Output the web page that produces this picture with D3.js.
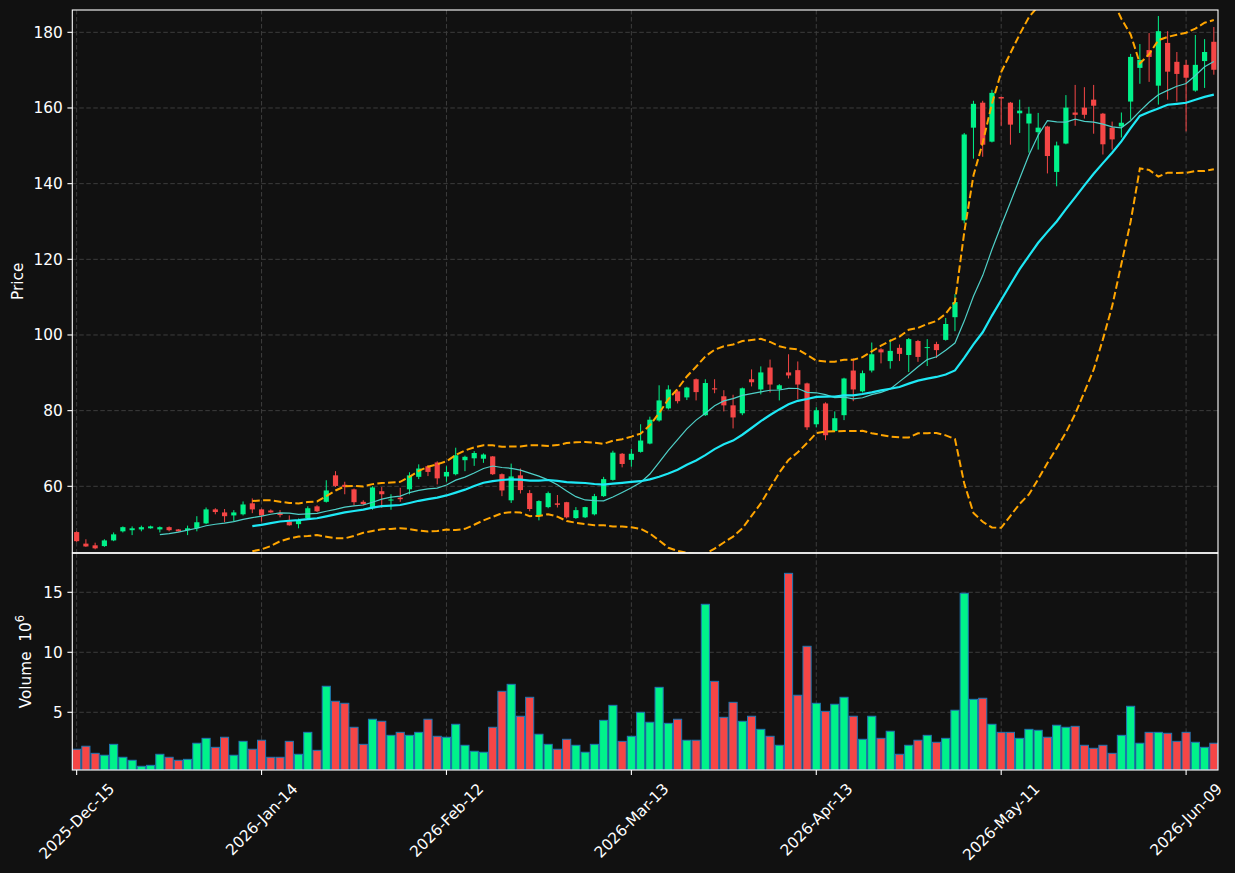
<!DOCTYPE html>
<html>
<head>
<meta charset="utf-8">
<script src="https://cdn.jsdelivr.net/npm/d3@7"></script>
<style>
  html, body { margin: 0; padding: 0; background: #111111; }
  svg { display: block; }
  text { font-family: "DejaVu Sans", sans-serif; fill: #ffffff; }
</style>
</head>
<body>
<div id="chart"></div>
<script>
// daily candles, index 0 = 2025-12-15 (trading days only)
var opens = [47.9,44.85,44.4,44.2,45.7,48.1,48.4,48.6,48.9,48.6,
  49.2,48.6,48.4,48.9,50.2,53.9,53.1,52.3,52.6,55.5,
  53.9,53.6,52.9,50.7,50.0,51.6,54.7,55.9,62.9,60.4,
  59.2,55.9,54.2,58.7,56.3,57.0,59.2,62.5,65.3,66.3,
  62.6,63.2,66.9,67.4,67.3,67.9,63.2,56.3,62.9,58.2,
  52.4,54.5,55.5,55.8,51.6,51.8,52.6,57.4,61.7,68.6,
  67.0,69.1,71.3,77.4,80.6,85.1,83.5,88.3,78.8,85.9,
  83.8,81.4,79.3,88.3,85.6,91.4,85.6,90.1,90.7,87.2,
  76.4,81.9,74.6,78.8,90.6,85.1,90.6,96.2,93.1,96.6,
  94.7,98.4,96.6,97.6,98.7,104.7,130.3,154.8,161.4,151.1,
  162.9,161.4,158.6,155.9,153.6,155.1,143.1,150.6,158.8,160.1,
  162.2,158.5,154.8,155.1,161.7,170.6,175.3,165.9,177.2,172.2,
  171.4,164.6,172.4,177.5];
var highs = [48.1,46.0,45.1,46.0,47.8,49.4,49.4,49.6,49.6,49.4,
  49.4,48.7,49.6,52.1,54.4,54.2,54.0,53.7,56.0,56.8,
  54.1,53.9,53.7,52.3,51.5,54.7,55.0,61.6,64.0,61.2,
  59.4,56.3,60.0,59.8,57.9,59.6,63.7,65.8,65.6,66.6,
  65.3,70.2,68.1,69.3,68.7,68.0,63.4,66.0,64.7,59.0,
  56.3,58.6,57.7,55.9,54.5,54.6,58.0,62.5,69.4,68.8,
  69.9,76.4,78.4,86.7,86.7,85.5,86.3,88.5,88.3,88.3,
  85.4,84.2,86.1,90.9,91.7,93.5,87.0,94.9,93.0,87.4,
  80.9,82.2,79.8,88.7,93.8,90.6,98.0,96.5,98.9,97.5,
  99.2,98.7,98.9,98.2,104.5,110.8,153.4,161.9,161.9,164.8,
  163.0,161.6,162.2,160.3,158.7,155.3,151.1,163.4,166.1,165.5,
  166.1,158.7,156.4,158.8,174.3,176.9,179.8,184.3,180.3,174.8,
  172.7,179.3,178.2,181.4];
var lows = [45.3,44.0,43.35,44.0,45.5,47.8,47.1,48.1,48.8,47.8,
  48.1,48.0,47.1,48.1,50.0,52.6,50.5,50.7,52.3,52.9,
  50.7,53.0,51.8,49.6,48.9,51.4,53.2,55.7,59.8,57.9,
  55.0,55.0,53.8,54.3,53.8,55.9,57.9,61.9,62.7,60.5,
  61.2,62.9,64.0,65.4,66.2,63.0,57.4,55.6,58.1,53.4,
  51.0,54.2,54.4,51.5,51.4,51.6,52.3,57.2,61.5,65.0,
  65.2,68.9,71.1,77.1,80.3,81.9,82.8,82.7,78.6,84.6,
  79.8,75.3,78.8,86.4,84.3,84.8,82.7,88.5,83.0,74.9,
  75.6,72.2,74.4,77.5,82.5,84.8,90.1,92.5,91.1,93.1,
  90.2,92.9,91.8,93.9,98.5,101.0,129.5,146.6,147.1,150.9,
  155.3,150.3,153.4,148.2,149.0,142.7,139.3,150.4,155.3,157.2,
  153.2,147.7,149.0,152.2,156.9,166.4,166.9,160.9,162.2,161.7,
  153.8,164.3,165.3,168.8];
var closes = [45.5,44.1,43.6,45.7,47.3,49.2,48.9,49.2,49.4,49.2,
  48.4,48.1,48.9,50.5,53.9,53.2,52.1,53.1,55.2,53.9,
  52.3,53.1,52.4,49.7,51.0,54.2,53.4,58.9,60.1,59.8,
  55.8,55.3,59.7,57.9,56.5,56.6,62.9,64.7,63.8,62.1,
  63.8,68.2,67.8,68.8,68.4,63.2,58.9,62.6,59.0,54.0,
  56.1,58.2,55.1,51.8,53.7,54.5,57.4,61.9,68.9,65.9,
  68.6,72.1,77.6,82.7,85.6,82.5,86.1,84.9,87.3,85.6,
  81.4,78.2,85.9,87.5,90.1,86.9,86.7,89.3,86.9,75.6,
  80.1,73.5,78.0,88.5,85.6,89.9,94.9,95.4,95.8,95.0,
  98.9,94.2,96.8,96.0,102.9,108.7,153.0,161.1,150.3,164.0,
  162.5,155.6,159.3,158.5,154.8,147.3,150.1,160.1,158.2,158.2,
  160.6,150.4,151.7,156.1,173.5,172.7,173.5,180.3,169.6,169.0,
  168.0,171.4,174.8,170.1];
// volume in millions
var volumes = [1.92,2.17,1.58,1.42,2.33,1.25,1.0,0.5,0.58,1.5,
  1.25,1.0,1.08,2.42,2.83,2.08,2.92,1.42,2.58,1.92,
  2.67,1.25,1.25,2.58,1.5,3.33,1.83,7.17,5.92,5.75,
  3.75,2.33,4.42,4.25,3.08,3.33,3.08,3.33,4.42,3.0,
  2.92,4.0,2.25,1.75,1.67,3.75,6.75,7.33,4.67,6.25,
  3.17,2.33,1.92,2.75,2.25,1.67,2.33,4.33,5.58,2.58,
  3.0,5.0,4.17,7.08,4.08,4.42,2.67,2.67,14.0,7.58,
  4.58,5.83,4.25,4.67,3.58,3.0,2.25,16.58,6.42,10.5,
  5.75,5.08,5.67,6.25,4.67,2.75,4.67,2.83,3.42,1.5,
  2.25,2.67,3.08,2.5,2.83,5.17,14.92,6.08,6.17,4.0,
  3.33,3.33,2.83,3.58,3.5,2.92,3.92,3.75,3.83,2.25,
  2.0,2.25,1.58,3.08,5.5,2.42,3.33,3.33,3.25,2.58,
  3.33,2.5,2.08,2.42];

var tickIndex  = [0, 20, 40, 60, 80, 100, 120];
var tickLabels = ["2025-Dec-15","2026-Jan-14","2026-Feb-12","2026-Mar-13",
                  "2026-Apr-13","2026-May-11","2026-Jun-09"];
var priceTicks  = [60, 80, 100, 120, 140, 160, 180];
var volumeTicks = [5, 10, 15];

var upColor = "#00f28a", downColor = "#f54646";
var fontSize = 15.3;

var width = 1235, height = 873;
var left = 72.3, right = 1218;
var priceTop = 10, priceBottom = 552.7;
var volTop = 553.3, volBottom = 770;

var svg = d3.select("#chart").append("svg")
  .attr("width", width).attr("height", height);

svg.append("rect").attr("width", width).attr("height", height).attr("fill", "#111111");

var x = d3.scaleLinear().domain([-0.47, 123.45]).range([left, right]);
var y = d3.scaleLinear().domain([42.45, 185.9]).range([priceBottom, priceTop]);
var yv = d3.scaleLinear().domain([0.19, 18.25]).range([volBottom, volTop]);
var pxPerBar = x(1) - x(0);

var data = closes.map(function(c, i){
  return {i: i, o: opens[i], h: highs[i], l: lows[i], c: c, v: volumes[i]};
});

// moving averages and bollinger bands worked out from the closes
function rolling(n, i){
  if (i < n - 1) return null;
  return closes.slice(i - n + 1, i + 1);
}
var ma10 = data.map(function(d){ var w = rolling(10, d.i); return w ? d3.mean(w) : null; });
var ma20 = data.map(function(d){ var w = rolling(20, d.i); return w ? d3.mean(w) : null; });
var bbUp = data.map(function(d){ var w = rolling(20, d.i); return w ? d3.mean(w) + 2 * d3.deviation(w) : null; });
var bbLo = data.map(function(d){ var w = rolling(20, d.i); return w ? d3.mean(w) - 2 * d3.deviation(w) : null; });

svg.append("clipPath").attr("id", "clipPrice")
  .append("rect").attr("x", left).attr("y", priceTop)
  .attr("width", right - left).attr("height", priceBottom - priceTop);
svg.append("clipPath").attr("id", "clipVol")
  .append("rect").attr("x", left).attr("y", volTop)
  .attr("width", right - left).attr("height", volBottom - volTop);

// grid
var grid = svg.append("g").attr("stroke", "#3d3d3d").attr("stroke-width", 1)
  .attr("stroke-dasharray", "4.5,2.5").attr("fill", "none");
tickIndex.forEach(function(t){
  grid.append("line").attr("x1", x(t)).attr("x2", x(t)).attr("y1", priceTop).attr("y2", priceBottom);
  grid.append("line").attr("x1", x(t)).attr("x2", x(t)).attr("y1", volTop).attr("y2", volBottom);
});
priceTicks.forEach(function(t){
  grid.append("line").attr("x1", left).attr("x2", right).attr("y1", y(t)).attr("y2", y(t));
});
volumeTicks.forEach(function(t){
  grid.append("line").attr("x1", left).attr("x2", right).attr("y1", yv(t)).attr("y2", yv(t));
});

// candles
var gPrice = svg.append("g").attr("clip-path", "url(#clipPrice)");
var candle = gPrice.selectAll(".candle").data(data).enter().append("g").attr("class", "candle");
candle.append("line")
  .attr("x1", function(d){ return x(d.i); })
  .attr("x2", function(d){ return x(d.i); })
  .attr("y1", function(d){ return y(d.h); })
  .attr("y2", function(d){ return y(d.l); })
  .attr("stroke", function(d){ return d.c >= d.o ? upColor : downColor; })
  .attr("stroke-width", 1);
candle.append("rect")
  .attr("x", function(d){ return x(d.i) - pxPerBar * 0.28; })
  .attr("width", pxPerBar * 0.56)
  .attr("y", function(d){ return y(Math.max(d.o, d.c)); })
  .attr("height", function(d){ return Math.max(1, Math.abs(y(d.o) - y(d.c))); })
  .attr("fill", function(d){ return d.c >= d.o ? upColor : downColor; });

// overlays
function lineOf(arr){
  return d3.line()
    .defined(function(d, i){ return arr[i] != null; })
    .x(function(d, i){ return x(i); })
    .y(function(d, i){ return y(arr[i]); })(arr);
}
gPrice.append("path").attr("d", lineOf(bbUp)).attr("fill", "none")
  .attr("stroke", "#ffa500").attr("stroke-width", 2).attr("stroke-dasharray", "7.5,3.3");
gPrice.append("path").attr("d", lineOf(bbLo)).attr("fill", "none")
  .attr("stroke", "#ffa500").attr("stroke-width", 2).attr("stroke-dasharray", "7.5,3.3");
gPrice.append("path").attr("d", lineOf(ma10)).attr("fill", "none")
  .attr("stroke", "#4fd0c8").attr("stroke-width", 1.2);
gPrice.append("path").attr("d", lineOf(ma20)).attr("fill", "none")
  .attr("stroke", "#1ee8f5").attr("stroke-width", 2.2);

// volume
var gVol = svg.append("g").attr("clip-path", "url(#clipVol)");
gVol.selectAll(".vol").data(data).enter().append("rect").attr("class", "vol")
  .attr("x", function(d){ return x(d.i) - pxPerBar * 0.44; })
  .attr("width", pxPerBar * 0.88)
  .attr("y", function(d){ return yv(d.v); })
  .attr("height", function(d){ return volBottom - yv(d.v); })
  .attr("fill", function(d){ return d.c >= d.o ? upColor : downColor; })
  .attr("stroke", "#1f77b4").attr("stroke-width", 1);

// frames
svg.append("rect").attr("x", left).attr("y", priceTop)
  .attr("width", right - left).attr("height", priceBottom - priceTop)
  .attr("fill", "none").attr("stroke", "#ffffff").attr("stroke-width", 1.1);
svg.append("rect").attr("x", left).attr("y", volTop)
  .attr("width", right - left).attr("height", volBottom - volTop)
  .attr("fill", "none").attr("stroke", "#ffffff").attr("stroke-width", 1.1);

// y ticks
var axes = svg.append("g").attr("font-size", fontSize);
priceTicks.forEach(function(t){
  axes.append("line").attr("x1", left - 4.9).attr("x2", left).attr("y1", y(t)).attr("y2", y(t))
    .attr("stroke", "#ffffff").attr("stroke-width", 1.1);
  axes.append("text").attr("x", left - 9.5).attr("y", y(t)).attr("dy", "0.35em")
    .attr("text-anchor", "end").text(t);
});
volumeTicks.forEach(function(t){
  axes.append("line").attr("x1", left - 4.9).attr("x2", left).attr("y1", yv(t)).attr("y2", yv(t))
    .attr("stroke", "#ffffff").attr("stroke-width", 1.1);
  axes.append("text").attr("x", left - 9.5).attr("y", yv(t)).attr("dy", "0.35em")
    .attr("text-anchor", "end").text(t);
});

// x ticks, rotated labels centred under the tick
tickIndex.forEach(function(t, k){
  axes.append("line").attr("x1", x(t)).attr("x2", x(t)).attr("y1", volBottom).attr("y2", volBottom + 4.9)
    .attr("stroke", "#ffffff").attr("stroke-width", 1.1);
  var lab = axes.append("text").attr("text-anchor", "middle").attr("dy", "0.35em").text(tickLabels[k]);
  var w = lab.node().getComputedTextLength();
  var boxH = (w + fontSize * 1.16) * Math.SQRT1_2;
  var cy = volBottom + 9.8 + boxH / 2;
  lab.attr("transform", "translate(" + x(t) + "," + cy + ") rotate(-45)");
});

// axis labels
axes.append("text").attr("transform", "translate(18," + ((priceTop + priceBottom) / 2) + ") rotate(-90)")
  .attr("text-anchor", "middle").attr("dy", "0.35em").text("Price");
var vl = axes.append("text").attr("transform", "translate(26," + ((volTop + volBottom) / 2) + ") rotate(-90)")
  .attr("text-anchor", "middle").attr("dy", "0.35em");
vl.append("tspan").text("Volume\u00a0\u00a010");
vl.append("tspan").attr("font-size", 11.5).attr("dy", "-0.6em").text("6");
</script>
</body>
</html>
